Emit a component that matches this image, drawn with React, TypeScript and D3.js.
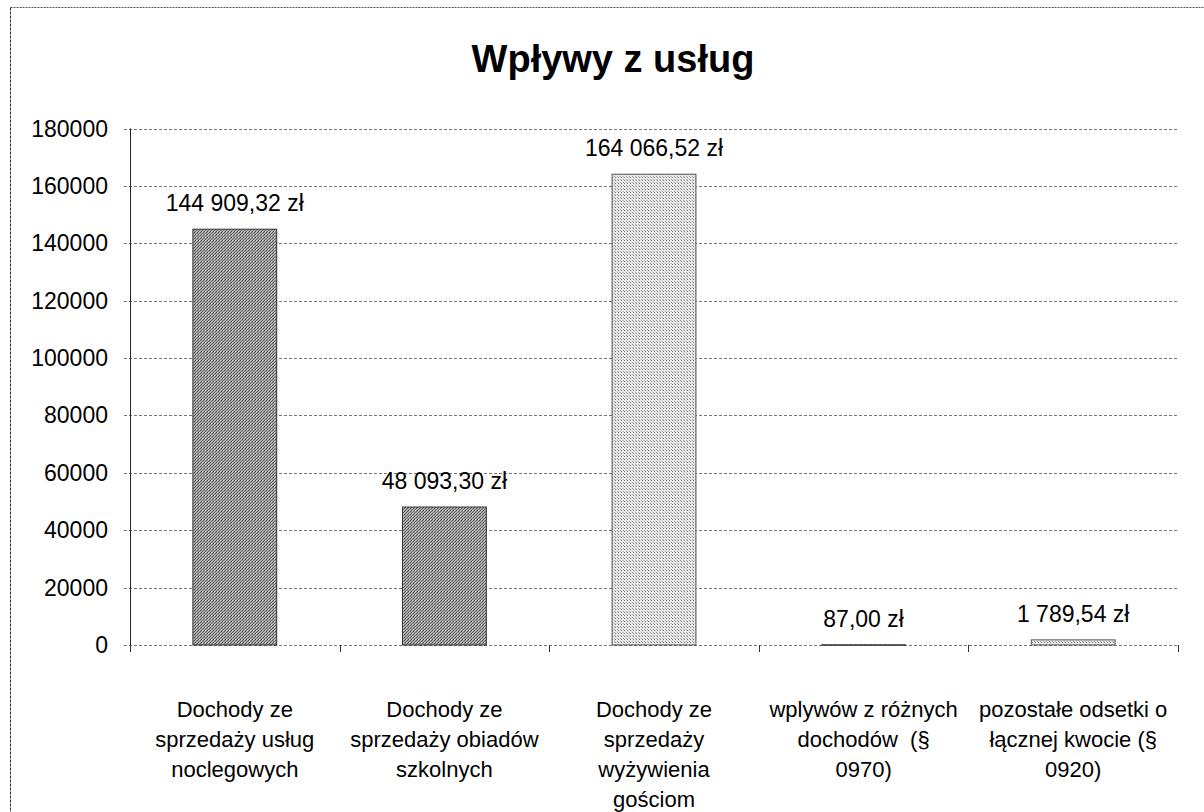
import * as d3 from "d3";

const categories = [
  ["Dochody ze", "sprzedaży usług", "noclegowych"],
  ["Dochody ze", "sprzedaży obiadów", "szkolnych"],
  ["Dochody ze", "sprzedaży", "wyżywienia", "gościom"],
  ["wplywów z różnych", "dochodów  (§", "0970)"],
  ["pozostałe odsetki o", "łącznej kwocie (§", "0920)"],
];
const values = [144909.32, 48093.3, 164066.52, 87.0, 1789.54];
const shades = ["dark", "dark", "light", "dark", "light"];
const yTicks = [0, 20000, 40000, 60000, 80000, 100000, 120000, 140000, 160000, 180000];
const title = "Wpływy z usług";

const W = 1204;
const H = 812;
const font = "'Liberation Sans', Arial, sans-serif";

const pl = d3.formatLocale({
  decimal: ",",
  thousands: " ",
  grouping: [3],
  currency: ["", " zł"],
});
const fmtMoney = pl.format("$,.2f");

export default function App() {
  const keys = categories.map((_, i) => String(i));
  const x = d3.scaleBand().domain(keys).range([130, 1178]).padding(0);
  const barW = x.bandwidth() * 0.4;
  const y = d3.scaleLinear().domain([0, 180000]).range([645, 128.5]);

  return (
    <svg
      width={W}
      height={H}
      style={{ position: "absolute", left: 0, top: 0, background: "#fff" }}
      fontFamily={font}
    >
      <defs>
        <pattern id="dark" width="3" height="3" patternUnits="userSpaceOnUse">
          <rect width="3" height="3" fill="#a8a8a8" />
          <rect x="0" y="0" width="1" height="1" fill="#4a4a4a" />
          <rect x="2" y="1" width="1" height="1" fill="#5a5a5a" />
          <rect x="1" y="2" width="1" height="1" fill="#6a6a6a" />
          <rect x="1" y="0" width="1" height="1" fill="#d0d0d0" />
        </pattern>
        <pattern id="light" width="3" height="3" patternUnits="userSpaceOnUse">
          <rect width="3" height="3" fill="#e6e6e6" />
          <rect x="0" y="0" width="1" height="1" fill="#808080" />
          <rect x="2" y="2" width="1" height="1" fill="#a8a8a8" />
        </pattern>
      </defs>

      {/* frame */}
      <line x1={10.5} y1={7.5} x2={W} y2={7.5} stroke="#555" strokeDasharray="2 1" />
      <line x1={10.5} y1={7.5} x2={10.5} y2={H} stroke="#333" strokeDasharray="3 1" />

      <text x={613} y={72} textAnchor="middle" fontSize={38} fontWeight="bold" fill="#000">
        {title}
      </text>

      {/* grid */}
      {yTicks.map((t) => (
        <g key={t}>
          <line
            x1={124}
            x2={1178}
            y1={Math.round(y(t)) + 0.5}
            y2={Math.round(y(t)) + 0.5}
            stroke="#777"
            strokeDasharray="3 2"
          />
          <text x={108} y={y(t) + 8} textAnchor="end" fontSize={23} fill="#000">
            {t}
          </text>
        </g>
      ))}

      {/* y axis */}
      <line x1={130.5} x2={130.5} y1={y(180000)} y2={y(0)} stroke="#222" />

      {/* x ticks */}
      {keys.concat(["end"]).map((k, i) => {
        const xx = Math.round(i < keys.length ? x(k)! : x.range()[1]) + 0.5;
        return <line key={k} x1={xx} x2={xx} y1={645} y2={652} stroke="#333" />;
      })}

      {/* bars */}
      {values.map((v, i) => {
        const cx = x(keys[i])! + x.bandwidth() / 2;
        const top = y(v);
        return (
          <g key={i}>
            <rect
              x={cx - barW / 2}
              y={top}
              width={barW}
              height={Math.max(y(0) - top, 0.5)}
              fill={`url(#${shades[i]})`}
              stroke={shades[i] === "dark" ? "#333" : "#555"}
              strokeWidth={1}
            />
            <text x={cx} y={top - 18} textAnchor="middle" fontSize={23} fill="#000">
              {fmtMoney(v)}
            </text>
          </g>
        );
      })}

      {/* category labels */}
      {categories.map((lines, i) => {
        const cx = x(keys[i])! + x.bandwidth() / 2;
        return (
          <text key={i} x={cx} textAnchor="middle" fontSize={22} fill="#000">
            {lines.map((l, j) => (
              <tspan key={j} x={cx} y={717 + j * 30} style={{ whiteSpace: "pre" }}>
                {l}
              </tspan>
            ))}
          </text>
        );
      })}
    </svg>
  );
}
